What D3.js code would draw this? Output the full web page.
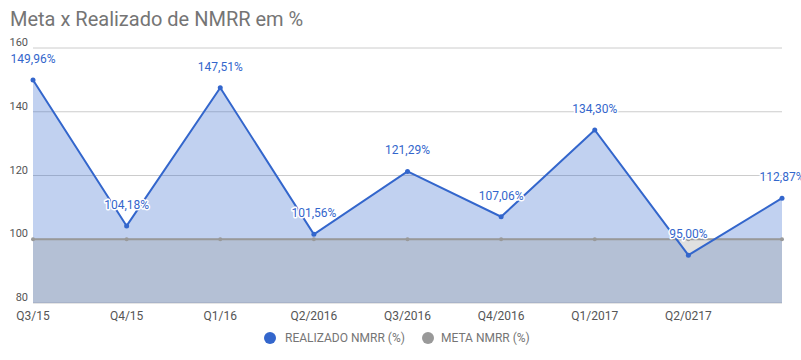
<!DOCTYPE html>
<html><head><meta charset="utf-8">
<script src="https://cdn.jsdelivr.net/npm/d3@7"></script>
<style>body{margin:0;background:#fff;font-family:Roboto,"Noto Sans",sans-serif}</style>
</head><body><svg id="c" width="801" height="360"></svg>
<script>
const categories = ["Q3/15","Q4/15","Q1/16","Q2/2016","Q3/2016","Q4/2016","Q1/2017","Q2/0217","Q3/2017"];
const xTickLabels = ["Q3/15","Q4/15","Q1/16","Q2/2016","Q3/2016","Q4/2016","Q1/2017","Q2/0217",""];
const realizado = [149.96,104.18,147.51,101.56,121.29,107.06,134.30,95.00,112.87];
const meta = [100,100,100,100,100,100,100,100,100];
const yTicks = [80,100,120,140,160];
const seriesNames = ["REALIZADO NMRR (%)","META NMRR (%)"];

const svg = d3.select("#c");
const x = d3.scalePoint().domain(categories).range([33,782]);
const y = d3.scaleLinear().domain([80,160]).range([303,48]);
const blue = "#3366cc", gray = "#999999";

svg.append("text").attr("x",10).attr("y",26).attr("font-size",20).attr("fill","#757575").text("Meta x Realizado de NMRR em %");

svg.append("g").selectAll("line").data(yTicks).join("line")
  .attr("x1",33).attr("x2",782).attr("y1",d=>y(d)).attr("y2",d=>y(d))
  .attr("stroke","#cccccc").attr("stroke-width",1);

svg.append("g").selectAll("text").data(yTicks).join("text")
  .attr("x",28).attr("y",d=>y(d)-2).attr("text-anchor","end").attr("font-size",11).attr("fill","#555").text(d=>d);

const idx = d3.range(categories.length);
svg.append("path").datum(idx)
  .attr("d", d3.area().x(i=>x(categories[i])).y0(y(80)).y1(i=>y(realizado[i])))
  .attr("fill",blue).attr("fill-opacity",0.3);
svg.append("path").datum(idx)
  .attr("d", d3.area().x(i=>x(categories[i])).y0(y(80)).y1(i=>y(meta[i])))
  .attr("fill",gray).attr("fill-opacity",0.3);

svg.append("path").datum(idx)
  .attr("d", d3.line().x(i=>x(categories[i])).y(i=>y(meta[i])))
  .attr("fill","none").attr("stroke",gray).attr("stroke-width",2);
svg.append("g").selectAll("circle").data(idx).join("circle")
  .attr("cx",i=>x(categories[i])).attr("cy",i=>y(meta[i])).attr("r",2).attr("fill",gray);

svg.append("path").datum(idx)
  .attr("d", d3.line().x(i=>x(categories[i])).y(i=>y(realizado[i])))
  .attr("fill","none").attr("stroke",blue).attr("stroke-width",2);
svg.append("g").selectAll("circle").data(idx).join("circle")
  .attr("cx",i=>x(categories[i])).attr("cy",i=>y(realizado[i])).attr("r",2.5).attr("fill",blue);

const fmt = v => v.toFixed(2).replace(".",",")+"%";
svg.append("g").selectAll("text").data(idx).join("text")
  .attr("x",i=>x(categories[i])).attr("y",i=>y(realizado[i])-17)
  .attr("text-anchor","middle").attr("font-size",12)
  .attr("fill","none").attr("stroke","#fff").attr("stroke-width",3).attr("stroke-linejoin","round")
  .text(i=>fmt(realizado[i]));
svg.append("g").selectAll("text").data(idx).join("text")
  .attr("x",i=>x(categories[i])).attr("y",i=>y(realizado[i])-17)
  .attr("text-anchor","middle").attr("font-size",12).attr("fill",blue)
  .text(i=>fmt(realizado[i]));

svg.append("g").selectAll("text").data(idx).join("text")
  .attr("x",i=>x(categories[i])).attr("y",320).attr("text-anchor","middle")
  .attr("font-size",12).attr("fill","#555").text(i=>xTickLabels[i]);

const lg = svg.append("g");
lg.append("circle").attr("cx",270).attr("cy",338).attr("r",6).attr("fill",blue);
lg.append("text").attr("x",285).attr("y",342).attr("font-size",12).attr("fill","#757575").text(seriesNames[0]);
lg.append("circle").attr("cx",428).attr("cy",338).attr("r",6).attr("fill",gray);
lg.append("text").attr("x",441).attr("y",342).attr("font-size",12).attr("fill","#757575").text(seriesNames[1]);
</script></body></html>
